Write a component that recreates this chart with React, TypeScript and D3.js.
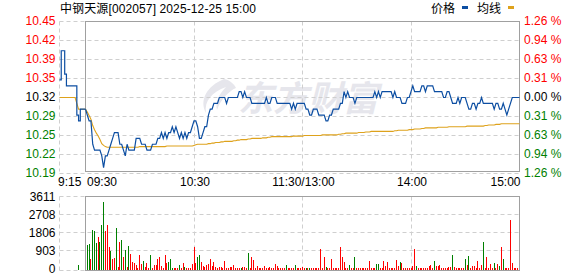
import React from 'react';
import * as d3 from 'd3';

const TITLE = '中钢天源[002057] 2025-12-25 15:00';
const LEGEND = ['价格', '均线'];
const PREV_CLOSE = 10.32;
const PCT_RANGE = 0.0126;
const PRICE_TICKS = ['10.45', '10.42', '10.39', '10.35', '10.32', '10.29', '10.25', '10.22', '10.19'];
const PCT_TICKS = ['1.26 %', '0.94 %', '0.63 %', '0.31 %', '0.00 %', '0.31 %', '0.63 %', '0.94 %', '1.26 %'];
const VOL_TICKS = [3611, 2708, 1806, 903, 0];
const TIME_TICKS = ['9:15', '09:30', '10:30', '11:30/13:00', '14:00', '15:00'];
const TIME_TICK_INDEX = [0, 15, 75, 135, 195, 255];

// pre-market 9:15 .. 9:29 (one value per minute)
const PRE_PRICE = [10.35, 10.40, 10.40, 10.36, 10.34, 10.34, 10.34, 10.34, 10.34, 10.34, 10.29, 10.28, 10.30, 10.30, 10.30];
const PRE_AVG = [10.32, 10.32, 10.32, 10.32, 10.32, 10.32, 10.32, 10.32, 10.32, 10.32, 10.31, 10.30, 10.30, 10.30, 10.30];
const PRE_VOL = [0, 0, 0, 0, 0, 0, 0, 0, 0, 0, 0, 200, 0, 0, 0];
const PRE_DIR = 'rrrrrrrrrrrgrrr';

// session 9:30 .. 15:00 (241 minutes)
const PRICE = [
  10.30, 10.29, 10.28, 10.28, 10.24, 10.23, 10.23, 10.23, 10.23, 10.22,
  10.20, 10.22, 10.22, 10.23, 10.24, 10.25, 10.26, 10.26, 10.26, 10.24,
  10.24, 10.23, 10.22, 10.24, 10.23, 10.23, 10.23, 10.23, 10.25, 10.25,
  10.25, 10.24, 10.24, 10.24, 10.23, 10.23, 10.23, 10.24, 10.24, 10.24,
  10.25, 10.25, 10.26, 10.25, 10.26, 10.25, 10.26, 10.26, 10.27, 10.26,
  10.27, 10.26, 10.25, 10.26, 10.25, 10.26, 10.25, 10.26, 10.26, 10.27,
  10.28, 10.28, 10.27, 10.25, 10.25, 10.26, 10.27, 10.27, 10.29, 10.30,
  10.30, 10.31, 10.31, 10.31, 10.32, 10.32, 10.32, 10.32, 10.31, 10.32,
  10.32, 10.32, 10.32, 10.32, 10.32, 10.33, 10.33, 10.32, 10.33, 10.32,
  10.32, 10.32, 10.31, 10.31, 10.31, 10.31, 10.31, 10.31, 10.31, 10.31,
  10.32, 10.31, 10.31, 10.32, 10.32, 10.32, 10.31, 10.31, 10.31, 10.31,
  10.31, 10.31, 10.31, 10.31, 10.30, 10.31, 10.30, 10.31, 10.31, 10.31,
  10.31, 10.31, 10.30, 10.30, 10.29, 10.29, 10.30, 10.30, 10.30, 10.29,
  10.29, 10.29, 10.29, 10.28, 10.28, 10.29, 10.29, 10.30, 10.30, 10.30,
  10.30, 10.31, 10.31, 10.33, 10.32, 10.33, 10.32, 10.32, 10.32, 10.31,
  10.32, 10.32, 10.32, 10.32, 10.32, 10.32, 10.32, 10.32, 10.32, 10.32,
  10.33, 10.32, 10.33, 10.32, 10.33, 10.33, 10.33, 10.33, 10.33, 10.33,
  10.32, 10.33, 10.32, 10.32, 10.32, 10.31, 10.31, 10.31, 10.32, 10.32,
  10.33, 10.34, 10.33, 10.33, 10.33, 10.33, 10.34, 10.34, 10.33, 10.34,
  10.34, 10.34, 10.34, 10.33, 10.33, 10.33, 10.33, 10.33, 10.32, 10.32,
  10.33, 10.33, 10.32, 10.31, 10.31, 10.31, 10.32, 10.31, 10.32, 10.32,
  10.32, 10.31, 10.30, 10.30, 10.31, 10.31, 10.30, 10.31, 10.31, 10.32,
  10.31, 10.31, 10.31, 10.31, 10.31, 10.31, 10.30, 10.31, 10.31, 10.30,
  10.30, 10.31, 10.30, 10.29, 10.30, 10.31, 10.32, 10.32, 10.32, 10.32,
  10.32,
];

const AVG = [
  10.300, 10.295, 10.289, 10.283, 10.272, 10.265, 10.259, 10.254, 10.248, 10.241,
  10.238, 10.236, 10.235, 10.235, 10.235, 10.235, 10.235, 10.235, 10.235, 10.235,
  10.235, 10.235, 10.235, 10.235, 10.235, 10.235, 10.235, 10.235, 10.235, 10.235,
  10.236, 10.236, 10.236, 10.236, 10.236, 10.236, 10.236, 10.236, 10.236, 10.236,
  10.236, 10.236, 10.236, 10.236, 10.236, 10.237, 10.237, 10.237, 10.237, 10.237,
  10.237, 10.237, 10.237, 10.237, 10.237, 10.237, 10.237, 10.237, 10.237, 10.237,
  10.238, 10.239, 10.240, 10.240, 10.240, 10.240, 10.240, 10.240, 10.241, 10.241,
  10.242, 10.242, 10.243, 10.243, 10.243, 10.244, 10.244, 10.245, 10.245, 10.245,
  10.245, 10.245, 10.246, 10.246, 10.247, 10.247, 10.248, 10.248, 10.248, 10.248,
  10.249, 10.249, 10.250, 10.250, 10.250, 10.250, 10.250, 10.250, 10.251, 10.251,
  10.251, 10.252, 10.252, 10.253, 10.253, 10.253, 10.253, 10.253, 10.253, 10.253,
  10.253, 10.253, 10.253, 10.253, 10.253, 10.254, 10.254, 10.254, 10.254, 10.254,
  10.254, 10.255, 10.255, 10.255, 10.255, 10.255, 10.255, 10.255, 10.255, 10.255,
  10.255, 10.256, 10.256, 10.256, 10.256, 10.256, 10.256, 10.256, 10.256, 10.256,
  10.257, 10.257, 10.258, 10.258, 10.259, 10.259, 10.259, 10.259, 10.259, 10.259,
  10.259, 10.260, 10.260, 10.260, 10.260, 10.261, 10.261, 10.261, 10.262, 10.262,
  10.262, 10.262, 10.262, 10.262, 10.262, 10.262, 10.262, 10.262, 10.262, 10.262,
  10.262, 10.263, 10.263, 10.264, 10.264, 10.264, 10.264, 10.264, 10.264, 10.265,
  10.265, 10.265, 10.266, 10.266, 10.266, 10.266, 10.267, 10.267, 10.268, 10.268,
  10.268, 10.268, 10.268, 10.268, 10.268, 10.269, 10.269, 10.269, 10.269, 10.269,
  10.269, 10.270, 10.270, 10.270, 10.270, 10.270, 10.270, 10.270, 10.270, 10.270,
  10.270, 10.271, 10.271, 10.271, 10.271, 10.271, 10.271, 10.271, 10.271, 10.271,
  10.271, 10.272, 10.272, 10.273, 10.273, 10.273, 10.273, 10.274, 10.274, 10.274,
  10.275, 10.275, 10.275, 10.275, 10.275, 10.275, 10.275, 10.275, 10.275, 10.275,
  10.275,
];

const VOL = [
  0, 1180, 1230, 490, 1950, 1880, 1300, 1570, 1340, 2200,
  3340, 1870, 2200, 1080, 880, 520, 540, 2060, 100, 1330,
  1430, 590, 930, 100, 1130, 740, 360, 280, 210, 60,
  690, 250, 390, 80, 300, 60, 720, 60, 200, 210,
  490, 600, 150, 60, 690, 280, 330, 510, 50, 60,
  70, 60, 200, 40, 300, 110, 40, 60, 40, 250,
  1110, 280, 590, 720, 330, 160, 100, 200, 260, 490,
  150, 330, 100, 60, 120, 80, 60, 410, 70, 70,
  110, 90, 200, 50, 70, 50, 60, 100, 80, 50,
  780, 50, 590, 460, 70, 130, 70, 40, 70, 130,
  60, 50, 80, 60, 70, 250, 130, 70, 50, 70,
  40, 200, 70, 50, 70, 40, 200, 60, 70, 50,
  80, 60, 50, 70, 60, 40, 50, 60, 50, 70,
  990, 60, 590, 80, 50, 60, 490, 60, 50, 70,
  60, 1080, 590, 340, 60, 50, 200, 60, 50, 590,
  60, 70, 50, 60, 50, 40, 60, 390, 50, 60,
  40, 250, 240, 60, 50, 390, 130, 340, 60, 50,
  40, 60, 450, 130, 340, 310, 60, 50, 40, 60,
  70, 130, 990, 130, 50, 60, 40, 60, 50, 60,
  130, 200, 60, 390, 150, 130, 200, 60, 50, 60,
  70, 110, 100, 690, 110, 60, 50, 60, 50, 40,
  490, 200, 640, 60, 150, 150, 60, 390, 60, 200,
  1330, 60, 610, 60, 250, 60, 300, 60, 250, 130,
  1080, 490, 60, 70, 60, 2460, 300, 60, 50, 60,
  390,
];

const DIR =
  'gggrgggrgg' +
  'grrrgrrgrr' +
  'grgrgrrrrr' +
  'rrgrrrgrrr' +
  'rrrrrrgggr' +
  'rrgrrgrrrr' +
  'rrggrrrrrr' +
  'rrrrrrrrrr' +
  'rrrrrrgrrr' +
  'grrrrrrrrr' +
  'rrrrrrrrrr' +
  'rgrrrrgrrr' +
  'rrgrgrrrrr' +
  'rrrgrrrrrr' +
  'rrrrrrgrrg' +
  'rrrrrrrrrr' +
  'rggrrrrrrr' +
  'rrrrgrrrrr' +
  'rrrgrrrrrr' +
  'rrrgrrrrrr' +
  'rrrgrrrrrr' +
  'grgrrrrrrr' +
  'grrrrrgrrg' +
  'rgrrrrrrrr' +
  'r';

const FONT = "'Liberation Sans', Arial, 'Noto Sans CJK SC', sans-serif";
const RED = '#ff0000';
const GREEN = '#008000';
const BLUE = '#0c4ea2';
const GOLD = '#dea21c';
const GRID = '#cfcfcf';
const FRAME = '#a0a0a0';

export default function App() {
  const W = 578;
  const H = 276;
  const allPrice = [...PRE_PRICE, ...PRICE];
  const allAvg = [...PRE_AVG, ...AVG];
  const allVol = [...PRE_VOL, ...VOL];
  const allDir = PRE_DIR + DIR;

  const x = d3.scaleLinear().domain([0, 15, 255]).range([59.5, 85.5, 519.5]);
  const lo = PREV_CLOSE * (1 - PCT_RANGE);
  const hi = PREV_CLOSE * (1 + PCT_RANGE);
  const yP = d3.scaleLinear().domain([lo, hi]).range([173.5, 21.5]);
  const yV = d3.scaleLinear().domain([0, VOL_TICKS[0]]).range([269, 196.5]);

  const priceTop = 21.5;
  const priceBottom = 171.5;
  const volTop = 196.5;
  const volBottom = 270.5;

  const levels = d3.range(9).map((k) => hi - (k * (hi - lo)) / 8);
  const crisp = (v: number) => Math.round(v - 0.5) + 0.5;

  const pts = allPrice.map((p, i) => [i, p] as [number, number]);
  const preLine = d3
    .line<[number, number]>()
    .x((d) => x(d[0]))
    .y((d) => yP(d[1]))
    .curve(d3.curveStepAfter);
  const sesLine = d3
    .line<[number, number]>()
    .x((d) => x(d[0]))
    .y((d) => yP(d[1]));
  const avgLine = d3
    .line<number>()
    .x((_, i) => x(i))
    .y((d) => yP(d));

  const vGridX = [0, 75, 135, 195].map((i) => crisp(x(i)));

  const labelColor = (k: number, mid: number) => (k < mid ? RED : k === mid ? '#000' : GREEN);

  return (
    <div style={{ position: 'absolute', left: 0, top: 0 }}>
      <svg width={W} height={H} style={{ display: 'block', background: '#fff' }} fontFamily={FONT}>
        {/* watermark */}
        <g>
          <path
            d="M224 79 C207 86 199 100 206 113 C204 101 212 92 226 87 C219 94 215 102 217 110 C221 99 229 91 236 88 C234 84 230 80 224 79 Z"
            fill="#e6e6ec"
          />
          <text x={238} y={111} fontSize={35} fontWeight="bold" fontStyle="italic" fill="#e6e6ec" fontFamily="'Noto Sans CJK SC', sans-serif">
            东方财富
          </text>
        </g>

        {/* price grid */}
        {levels.map((v, k) => (
          <line key={'ph' + k} x1={59.5} x2={519.5} y1={crisp(yP(v))} y2={crisp(yP(v))} stroke={GRID} strokeDasharray="4,3" />
        ))}
        {vGridX.map((gx, k) => (
          <line key={'pv' + k} x1={gx} x2={gx} y1={priceTop} y2={priceBottom} stroke={GRID} strokeDasharray="4,3" />
        ))}

        {/* volume grid */}
        {VOL_TICKS.slice(0, 4).map((t, k) => (
          <line key={'vh' + k} x1={59.5} x2={519.5} y1={crisp(yV(t))} y2={crisp(yV(t))} stroke={GRID} strokeDasharray="4,3" />
        ))}
        <line x1={59.5} x2={85.5} y1={volBottom} y2={volBottom} stroke={GRID} strokeDasharray="4,3" />
        {vGridX.map((gx, k) => (
          <line key={'vv' + k} x1={gx} x2={gx} y1={volTop} y2={volBottom} stroke={GRID} strokeDasharray="4,3" />
        ))}

        {/* volume bars */}
        {allVol.map((v, i) =>
          v > 0 ? (
            <rect
              key={'b' + i}
              x={Math.floor(x(i))}
              width={1}
              y={Math.min(Math.round(yV(v)), 269)}
              height={270 - Math.min(Math.round(yV(v)), 269)}
              fill={allDir[i] === 'g' ? GREEN : RED}
            />
          ) : null
        )}

        {/* frames */}
        <rect x={85.5} y={priceTop} width={434} height={priceBottom - priceTop} fill="none" stroke={FRAME} />
        <rect x={85.5} y={volTop} width={434} height={volBottom - volTop} fill="none" stroke={FRAME} />

        {/* lines */}
        <path d={avgLine(allAvg) || ''} fill="none" stroke={GOLD} strokeWidth={1.1} />
        <path d={preLine(pts.slice(0, 16)) || ''} fill="none" stroke={BLUE} strokeWidth={1.2} />
        <path d={sesLine(pts.slice(15)) || ''} fill="none" stroke={BLUE} strokeWidth={1.2} />

        {/* left price labels */}
        {PRICE_TICKS.map((t, k) => (
          <text key={'pl' + k} x={55.5} y={yP(levels[k]) - 0.3} dy="0.35em" textAnchor="end" fontSize={12} fill={labelColor(k, 4)}>
            {t}
          </text>
        ))}
        {/* right percent labels */}
        {PCT_TICKS.map((t, k) => (
          <text key={'pr' + k} x={524} y={yP(levels[k]) - 0.3} dy="0.35em" textAnchor="start" fontSize={12} fill={labelColor(k, 4)}>
            {t}
          </text>
        ))}
        {/* volume labels */}
        {VOL_TICKS.map((t, k) => (
          <text key={'vl' + k} x={55.5} y={yV(t) + 0.2} dy="0.35em" textAnchor="end" fontSize={12} fill="#000">
            {t}
          </text>
        ))}

        {/* time labels */}
        {TIME_TICKS.map((t, k) => {
          const last = k === TIME_TICKS.length - 1;
          const anchor = k < 2 ? 'start' : last ? 'end' : 'middle';
          const px = x(TIME_TICK_INDEX[k]) + (k === 0 ? -1.5 : k === 1 ? 1.5 : 1);
          return (
            <text key={'t' + k} x={px} y={186} textAnchor={anchor} fontSize={12} fill="#000">
              {t}
            </text>
          );
        })}

        {/* title & legend */}
        <text x={60} y={13} fontSize={12} fill="#000" textLength={196} lengthAdjust="spacing">
          {TITLE}
        </text>
        <text x={431} y={13} fontSize={12} fill="#000">
          {LEGEND[0]}
        </text>
        <rect x={462} y={6} width={6} height={3} fill={BLUE} />
        <text x={477} y={13} fontSize={12} fill="#000">
          {LEGEND[1]}
        </text>
        <rect x={508} y={6} width={6} height={3} fill={GOLD} />
      </svg>
    </div>
  );
}
